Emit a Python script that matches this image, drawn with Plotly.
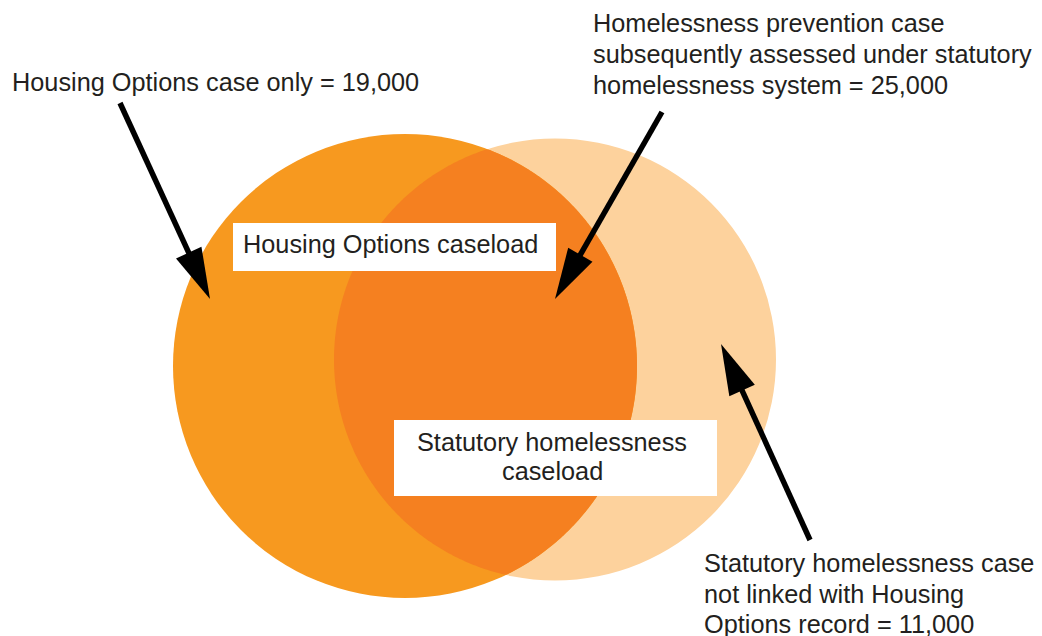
import numpy as np
import plotly.graph_objects as go

# Venn counts (overlap of Housing Options and statutory homelessness records)
segment_labels = [
    "Housing Options case only",
    "Homelessness prevention case<br>subsequently assessed under statutory<br>homelessness system",
    "Statutory homelessness case<br>not linked with Housing<br>Options record",
]
segment_counts = [19000, 25000, 11000]
set_names = ["Housing Options caseload", "Statutory homelessness<br>caseload"]

W, H = 1042, 636
PAGE_PAD = 8  # default body margin of the html page
TEXT = "#231f20"
FONT = "Liberation Sans, Arial, Helvetica, sans-serif"

# circle geometry (pixels)
left_c = (405, 366, 232)
right_c = (555, 359.5, 221)


def lens_path(a, b, n=720):
    ax, ay, ar = a
    bx, by, br = b
    ta = np.linspace(-np.pi, np.pi, n)
    pa = np.c_[ax + ar * np.cos(ta), ay + ar * np.sin(ta)]
    pa = pa[np.hypot(pa[:, 0] - bx, pa[:, 1] - by) <= br]
    tb = np.linspace(0, 2 * np.pi, n)
    pb = np.c_[bx + br * np.cos(tb), by + br * np.sin(tb)]
    pb = pb[np.hypot(pb[:, 0] - ax, pb[:, 1] - ay) <= ar]
    pts = np.vstack([pa, pb])
    return "M " + " L ".join(f"{x:.2f},{y:.2f}" for x, y in pts) + " Z"


def arrow(start, tip, head_len=51, head_w=14, width=5.5):
    s = np.array(start, float)
    t = np.array(tip, float)
    u = (t - s) / np.linalg.norm(t - s)
    nrm = np.array([-u[1], u[0]])
    base = t - head_len * u
    c1 = base + head_w * nrm
    c2 = base - head_w * nrm
    stem_end = base + 4 * u
    return [
        dict(type="line", x0=s[0], y0=s[1], x1=stem_end[0], y1=stem_end[1],
             line=dict(color="black", width=width)),
        dict(type="path", path=f"M {t[0]},{t[1]} L {c1[0]},{c1[1]} L {c2[0]},{c2[1]} Z",
             fillcolor="black", line=dict(width=0)),
    ]


def circle(c, color):
    x, y, r = c
    return dict(type="circle", x0=x - r, x1=x + r, y0=y - r, y1=y + r,
                fillcolor=color, line=dict(width=0))


shapes = [
    circle(right_c, "#FDD29D"),
    circle(left_c, "#F7991F"),
    dict(type="path", path=lens_path(left_c, right_c), fillcolor="#F58020", line=dict(width=0)),
    dict(type="rect", x0=233, x1=556, y0=223, y1=271, fillcolor="white", line=dict(width=0)),
    dict(type="rect", x0=394, x1=717, y0=420, y1=496, fillcolor="white", line=dict(width=0)),
]
shapes += arrow((120, 103), (210, 299))
shapes += arrow((662, 112), (555, 299))
shapes += arrow((810, 540), (721, 344))

fig = go.Figure()
fig.add_trace(go.Scatter(x=[0, W], y=[0, H], mode="markers", marker=dict(opacity=0),
                         hoverinfo="skip", showlegend=False))


def text_lines(text, x, ys, anchor):
    out = []
    for line, y in zip(text.split("<br>"), ys):
        out.append(dict(x=x, y=y, xanchor=anchor, yanchor="middle", align=anchor, text=line))
    return out


annotations = []
annotations += text_lines(f"{segment_labels[0]} = {segment_counts[0]:,}", 10, [82], "left")
annotations += text_lines(f"{segment_labels[1]} = {segment_counts[1]:,}", 591, [23, 54, 84.5], "left")
annotations += text_lines(f"{segment_labels[2]} = {segment_counts[2]:,}", 702, [563, 594, 624], "left")
annotations += text_lines(set_names[0], 390, [244], "center")
annotations += text_lines(set_names[1], 552, [442, 471], "center")
for a in annotations:
    a.update(xref="x", yref="y", showarrow=False, font=dict(size=25.3, color=TEXT, family=FONT))

fig.update_layout(
    width=W, height=H,
    margin=dict(l=0, r=0, t=0, b=0),
    paper_bgcolor="white", plot_bgcolor="white",
    xaxis=dict(range=[PAGE_PAD, W + PAGE_PAD], visible=False, fixedrange=True),
    yaxis=dict(range=[H + PAGE_PAD, PAGE_PAD], visible=False, fixedrange=True),
    shapes=shapes,
    annotations=annotations,
    showlegend=False,
)

fig.write_html("out.html")
